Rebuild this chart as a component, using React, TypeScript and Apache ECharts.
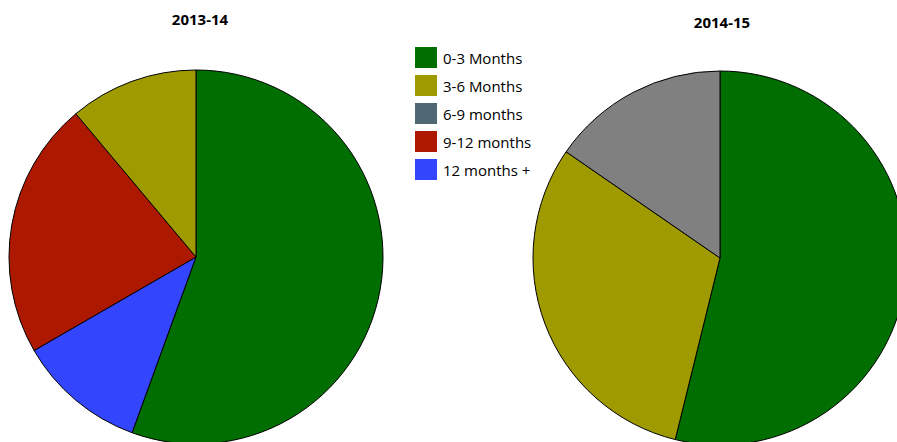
import React, { useEffect, useRef } from "react";
import * as echarts from "echarts";

const categories = ["0-3 Months", "3-6 Months", "6-9 months", "9-12 months", "12 months +"];
const values2013 = [5, 1, 0, 2, 1];
const values2014 = [7, 4, 2, 0, 0];
// clockwise drawing order of slices (indices into categories)
const order2013 = [0, 4, 3, 2, 1];
const order2014 = [0, 1, 2, 3, 4];
const pieColors = ["#006e00", "#9f9a00", "#808080", "#ad1800", "#3346fe"];
const legendColors = ["#006e00", "#9f9a00", "#506874", "#ad1800", "#3346fe"];
const titles = ["2013-14", "2014-15"];

const FONT = '"Open Sans", "Noto Sans", sans-serif';

function buildData(values: number[], order: number[]) {
  return order
    .filter((i) => values[i] > 0)
    .map((i) => ({
      name: categories[i],
      value: values[i],
      itemStyle: { color: pieColors[i] },
    }));
}

export default function App() {
  const ref = useRef<HTMLDivElement>(null);
  useEffect(() => {
    if (!ref.current) return;
    const chart = echarts.init(ref.current, null, { renderer: "svg" });
    const pieCommon = {
      type: "pie" as const,
      radius: 187,
      startAngle: 90,
      clockwise: true,
      label: { show: false },
      labelLine: { show: false },
      emphasis: { disabled: true },
      itemStyle: { borderColor: "#000", borderWidth: 1 },
      silent: true,
    };
    chart.setOption({
      animation: false,
      backgroundColor: "#ffffff",
      legend: {
        orient: "vertical",
        left: 415,
        top: 47,
        padding: 0,
        itemWidth: 22,
        itemHeight: 21,
        itemGap: 7,
        icon: "rect",
        selectedMode: false,
        itemStyle: { borderWidth: 0 },
        textStyle: { fontFamily: FONT, fontSize: 15, color: "#000", padding: [0, 0, 0, 1] },
        data: categories.map((c, i) => ({
          name: c,
          itemStyle: { color: legendColors[i], borderWidth: 0 },
        })),
      },
      graphic: [
        {
          type: "text",
          x: 200,
          y: 19,
          style: { text: titles[0], align: "center", verticalAlign: "middle", fontFamily: FONT, fontWeight: "bold", fontSize: 15, fill: "#000" },
        },
        {
          type: "text",
          x: 722,
          y: 22,
          style: { text: titles[1], align: "center", verticalAlign: "middle", fontFamily: FONT, fontWeight: "bold", fontSize: 15, fill: "#000" },
        },
      ],
      series: [
        { ...pieCommon, name: titles[0], center: [196, 257], data: buildData(values2013, order2013) },
        { ...pieCommon, name: titles[1], center: [720, 258], data: buildData(values2014, order2014) },
      ],
    });
    return () => chart.dispose();
  }, []);
  return (
    <div
      ref={ref}
      style={{ position: "fixed", left: 0, top: 0, width: 897, height: 442, background: "#fff" }}
    />
  );
}
